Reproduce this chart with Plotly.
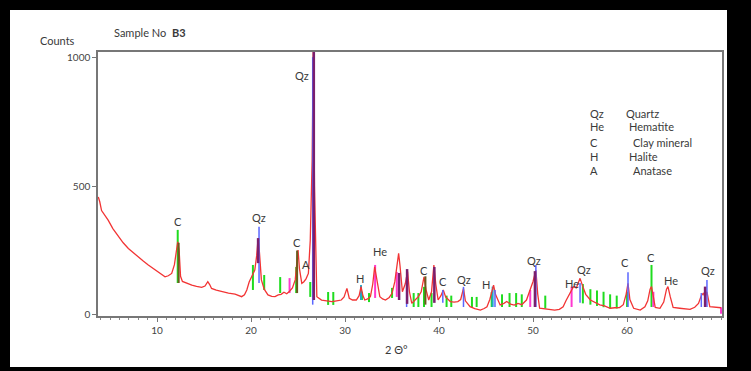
import plotly.graph_objects as go

# ---- measured pattern (2theta, counts) ----
two_theta = [3.75, 3.9, 4.1, 4.5, 4.8, 5.3, 5.9, 6.4, 6.95, 7.5, 8.0, 8.5, 9.07, 9.6, 10.14, 10.5,
             10.85, 11.2, 11.56, 11.85, 12.05, 12.2, 12.35, 12.5, 12.7, 13.2, 13.7, 14.2, 14.75, 15.1,
             15.4, 15.6, 15.8, 16.3, 16.9, 17.6, 18.3, 18.7, 19.0, 19.3, 19.55, 19.8, 20.07, 20.4,
             20.6, 20.75, 20.9, 21.1, 21.4, 21.8, 22.2, 22.55, 22.9, 23.2, 23.5, 23.8, 24.1, 24.4,
             24.7, 24.9, 25.0, 25.15, 25.4, 25.6, 25.85, 26.1, 26.3, 26.5, 26.62, 26.75, 26.9, 27.0,
             27.5, 28.0, 28.6, 29.1, 29.6, 29.9, 30.2, 30.45, 30.8, 31.2, 31.5, 31.7, 31.9, 32.1,
             32.4, 32.7, 32.95, 33.15, 33.35, 33.7, 34.0, 34.3, 34.7, 35.0, 35.3, 35.55, 35.7, 35.85,
             36.1, 36.4, 36.65, 36.85, 37.1, 37.5, 37.8, 38.1, 38.4, 38.6, 38.9, 39.2, 39.45, 39.65,
             39.9, 40.2, 40.45, 40.7, 41.0, 41.2, 41.6, 42.0, 42.3, 42.6, 42.8, 43.3, 43.8, 44.4,
             44.8, 45.1, 45.4, 45.8, 46.0, 46.5, 46.9, 47.2, 47.6, 48.0, 48.4, 48.8, 49.3, 49.7,
             50.0, 50.3, 50.5, 50.7, 51.2, 51.8, 52.3, 52.8, 53.2, 53.5, 53.8, 54.1, 54.3, 54.6,
             55.0, 55.3, 55.6, 56.1, 56.6, 57.1, 57.6, 58.2, 58.7, 59.2, 59.6, 59.9, 60.1, 60.3,
             60.7, 61.4, 61.9, 62.2, 62.45, 62.6, 62.8, 63.0, 63.5, 63.9, 64.2, 64.35, 64.6, 64.9,
             65.6, 66.2, 66.7, 67.2, 67.6, 67.9, 68.1, 68.3, 68.5, 68.8, 69.2, 69.5, 70.0]
counts = [458, 440, 405, 385, 368, 335, 303, 280, 258, 240, 226, 210, 194, 180, 168, 158,
          148, 152, 161, 195, 260, 284, 250, 150, 130, 122, 116, 111, 107, 112,
          129, 118, 103, 96, 90, 85, 81, 77, 71, 78, 97, 128, 148, 174,
          230, 297, 240, 136, 100, 78, 72, 71, 78, 80, 88, 82, 92, 105,
          136, 240, 252, 180, 123, 128, 140, 161, 290, 600, 1040, 500, 150, 71,
          58, 55, 52, 55, 58, 70, 103, 65, 58, 58, 75, 110, 75, 58,
          62, 71, 120, 187, 140, 71, 62, 58, 68, 84, 130, 190, 239, 190,
          90, 120, 168, 90, 45, 60, 71, 90, 148, 100, 58, 90, 194, 120,
          58, 75, 97, 70, 60, 52, 50, 52, 60, 103, 55, 32, 25, 19,
          25, 32, 60, 116, 80, 39, 45, 52, 42, 38, 45, 40, 58, 97,
          130, 174, 80, 26, 24, 22, 19, 22, 32, 55, 78, 95, 110, 105,
          142, 110, 80, 58, 48, 39, 35, 26, 28, 29, 40, 80, 123, 60,
          26, 19, 32, 55, 100, 110, 70, 29, 26, 50, 100, 110, 70, 29,
          26, 24, 22, 30, 45, 75, 84, 70, 90, 32, 30, 29, 28]

# ---- reference sticks (position, top, base) ----
green_pos = [12.2, 20.2, 21.4, 23.1, 24.8, 26.3, 28.2, 28.75, 31.8, 32.55, 35.0, 37.3, 37.8, 38.4,
             39.2, 40.8, 41.3, 43.5, 44.0, 45.6, 46.7, 47.5, 48.2, 48.8, 51.3, 55.3, 56.1, 56.8,
             57.5, 58.2, 58.9, 60.0, 62.6]
green_top = [330, 194, 155, 147, 186, 128, 89, 89, 90, 85, 105, 85, 85, 109,
             85, 75, 75, 70, 70, 89, 80, 85, 85, 80, 75, 120, 100, 95,
             90, 80, 75, 90, 194]
green_base = [124, 97, 97, 85, 85, 70, 39, 39, 58, 50, 66, 31, 31, 31,
              31, 31, 31, 31, 31, 31, 31, 31, 31, 31, 25, 45, 40, 35,
              30, 25, 25, 31, 31]

blue_pos = [20.85, 26.56, 36.55, 40.4, 42.6, 45.95, 50.3, 55.0, 60.1, 67.9, 68.5]
blue_top = [342, 1000, 147, 97, 109, 97, 194, 124, 166, 85, 136]
blue_base = [124, 40, 31, 47, 31, 31, 31, 47, 31, 31, 31]

magenta_pos = [24.1, 33.2, 35.5, 49.7, 54.1, 62.8, 70.0]
magenta_top = [143, 194, 167, 97, 110, 90, 30]
magenta_base = [85, 66, 70, 31, 31, 31, 5]

purple_pos = [20.75, 26.68, 35.75, 36.6, 39.5, 50.2, 68.3]
purple_top = [298, 1020, 163, 178, 186, 170, 110]
purple_base = [201, 58, 58, 43, 47, 31, 31]

cyan_pos = [31.7, 45.7]
cyan_top = [116, 110]
cyan_base = [58, 31]

olive_pos = [12.3, 24.9, 38.55]
olive_top = [280, 250, 150]
olive_base = [124, 85, 40]

# ---- peak labels ----
lab_text = ["C", "Qz", "C", "A", "Qz", "H", "He", "C", "C", "Qz", "H", "Qz", "He", "Qz", "C", "C", "He", "Qz"]
lab_x = [12.23, 20.85, 24.9, 25.85, 25.4, 31.6, 33.7, 38.4, 40.4, 42.66, 45.0, 50.1, 54.15, 55.4, 59.8, 62.55, 64.7, 68.6]
lab_y = [364, 380, 283, 194, 930, 140, 248, 171, 128, 136, 120, 213, 124, 178, 205, 221, 132, 171]

# ---- legend key ----
key_abbr = ["Qz", "He", "C", "H", "A"]
key_name = ["Quartz", "Hematite", "Clay mineral", "Halite", "Anatase"]

FONT = "Lato"
W, H = 751, 371
L, R, T, B = 98, 29, 52, 55
PW, PH = W - L - R, H - T - B


def px(xp):
    return (xp - L) / PW


def py(yp):
    return (H - B - yp) / PH


def sticks(pos, top, base):
    xs, ys = [], []
    for p, t, b in zip(pos, top, base):
        xs += [p, p, None]
        ys += [b, t, None]
    return xs, ys


fig = go.Figure()

for pos, top, base, col, w in [
    (green_pos, green_top, green_base, "#1fdc1f", 2),
    (magenta_pos, magenta_top, magenta_base, "#ff38d0", 2),
    (cyan_pos, cyan_top, cyan_base, "#20a8c8", 2),
]:
    xs, ys = sticks(pos, top, base)
    fig.add_trace(go.Scatter(x=xs, y=ys, mode="lines", line=dict(color=col, width=w),
                             hoverinfo="skip", showlegend=False))

fig.add_trace(go.Scatter(x=two_theta, y=counts, mode="lines",
                         line=dict(color="#f23434", width=1.3), showlegend=False))

for pos, top, base, col, w in [
    (olive_pos, olive_top, olive_base, "#6b5a1e", 2),
    (blue_pos, blue_top, blue_base, "#5a66ff", 1.5),
    (purple_pos, purple_top, purple_base, "#7a1f6e", 2.5),
]:
    xs, ys = sticks(pos, top, base)
    fig.add_trace(go.Scatter(x=xs, y=ys, mode="lines", line=dict(color=col, width=w),
                             hoverinfo="skip", showlegend=False))

TXT = dict(family=FONT, size=11, color="#3a3a3a")
anns = []
for t, x, y in zip(lab_text, lab_x, lab_y):
    anns.append(dict(x=x, y=y, xref="x", yref="y", text=t, showarrow=False,
                     xanchor="center", yanchor="middle", font=TXT))

row_y = [113, 127, 142, 156, 170]
name_x = [624, 627, 631, 627, 631]
for a, n, yy, nx in zip(key_abbr, key_name, row_y, name_x):
    anns.append(dict(x=px(588), y=py(yy), xref="paper", yref="paper", text=a, showarrow=False,
                     xanchor="left", yanchor="middle", font=TXT))
    anns.append(dict(x=px(nx), y=py(yy), xref="paper", yref="paper", text=n, showarrow=False,
                     xanchor="left", yanchor="middle", font=TXT))

anns.append(dict(x=px(57), y=py(40), xref="paper", yref="paper", text="Counts", showarrow=False,
                 xanchor="center", yanchor="middle", font=TXT))
anns.append(dict(x=px(112), y=py(33), xref="paper", yref="paper", text="Sample No  <b>B3</b>",
                 showarrow=False, xanchor="left", yanchor="middle", font=TXT))
anns.append(dict(x=px(396), y=py(349), xref="paper", yref="paper", text="2 \u0398\u00b0",
                 showarrow=False, xanchor="center", yanchor="middle", font=TXT))

shapes = [dict(type="rect", xref="paper", yref="paper", x0=px(10), x1=px(727), y0=py(367), y1=py(10),
               fillcolor="white", line=dict(width=0), layer="below")]

fig.update_layout(
    width=W, height=H,
    margin=dict(l=L, r=R, t=T, b=B),
    paper_bgcolor="black", plot_bgcolor="white",
    annotations=anns, shapes=shapes,
    xaxis=dict(range=[3.72, 70.1], tickvals=[10, 20, 30, 40, 50, 60], ticks="outside", ticklen=4,
               tickcolor="#777", showline=True, linecolor="#777", linewidth=1.5, mirror=True,
               showgrid=False, zeroline=False,
               tickfont=dict(family=FONT, size=10, color="#444"),
               minor=dict(dtick=1, ticks="outside", ticklen=2, tickcolor="#888")),
    yaxis=dict(range=[-4, 1020], tickvals=[0, 500, 1000], ticks="outside", ticklen=4,
               tickcolor="#777", showline=True, linecolor="#777", linewidth=1.5, mirror=True,
               showgrid=False, zeroline=False,
               tickfont=dict(family=FONT, size=10, color="#444")),
)

fig.write_html("out.html")
